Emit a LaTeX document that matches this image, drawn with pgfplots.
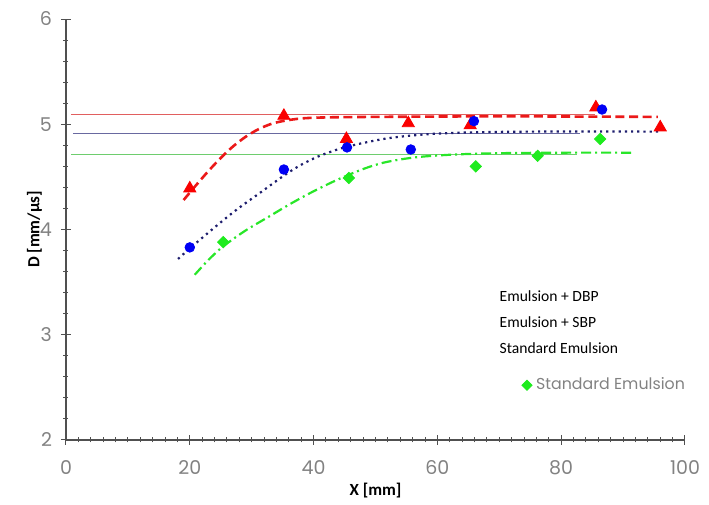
\documentclass[border=0pt]{standalone}
\usepackage{pgfplots}
\pgfplotsset{compat=1.18}
\usepackage{fontspec}
\setmainfont{Carlito}
\newfontfamily\gothic{Poppins}
\definecolor{hred}{RGB}{225,95,95}
\definecolor{hblue}{RGB}{105,105,160}
\definecolor{hgreen}{RGB}{110,205,110}
\definecolor{mred}{RGB}{250,0,0}
\definecolor{mblue}{RGB}{0,0,245}
\definecolor{mgreen}{RGB}{30,235,30}
\definecolor{lred}{RGB}{235,25,25}
\definecolor{lblue}{RGB}{30,30,110}
\definecolor{lgreen}{RGB}{40,230,40}
\definecolor{axgray}{RGB}{80,80,80}
\definecolor{tickgray}{RGB}{130,130,130}
\begin{document}
\begin{tikzpicture}
\begin{axis}[
  scale only axis,
  width=309.5pt, height=210.5pt,
  xmin=0, xmax=100, ymin=2, ymax=6,
  axis lines=left,
  axis line style={-, axgray, line width=0.6pt},
  xtick={0,20,...,100}, ytick={2,3,4,5,6},
  minor x tick num=9, minor y tick num=4,
  tick align=center,
  major tick length=5pt, minor tick length=2.5pt,
  tick style={axgray, line width=0.5pt},
  ticklabel style={font=\gothic\fontsize{9.5}{11}\selectfont, text=tickgray},
  /pgf/number format/assume math mode=true,
  xticklabel style={yshift=-4pt},
  yticklabel style={xshift=-1pt},
  xlabel={\bfseries X [mm]}, ylabel={\bfseries D [mm/µs]},
  label style={font=\fontsize{8.5}{10}\selectfont},
  xlabel style={yshift=2.5pt},
  ylabel style={yshift=-8pt},
  clip=false,
  legend style={draw=none, fill=none, at={(axis cs:73.6,2.52)}, anchor=west,
    font=\gothic\fontsize{7.9}{9}\selectfont, text=tickgray, inner sep=0pt,
    legend cell align=left},
  legend image code/.code={\draw[#1] plot coordinates {(0.1cm,0cm)};},
]
% horizontal reference lines
\addplot[hred, line width=0.6pt, forget plot] coordinates {(0.8,5.09) (85.5,5.09)};
\addplot[hblue, line width=0.6pt, forget plot] coordinates {(1.1,4.91) (83,4.91)};
\addplot[hgreen, line width=0.6pt, forget plot] coordinates {(0.8,4.71) (82.5,4.71)};
% fit curves
\addplot[lred, line width=1.3pt, dash pattern=on 4.5pt off 2.3pt, smooth, tension=0.5, forget plot] coordinates {
 (19,4.28) (21,4.42) (23,4.555) (25,4.68) (27,4.79) (29,4.88) (31,4.95) (33,5.00) (35,5.03) (38,5.055) (42,5.065) (50,5.07) (70,5.075) (95.6,5.07)};
\addplot[lblue, line width=1.1pt, dotted, smooth, tension=0.5, forget plot] coordinates {
 (18.1,3.72) (20,3.82) (24,4.02) (27.6,4.19) (31.5,4.355) (35.4,4.52) (38,4.615) (41,4.70) (45.3,4.785) (51.8,4.865) (58.3,4.905) (65,4.922) (75,4.93) (95.8,4.93)};
\addplot[lgreen, line width=1.1pt, dash pattern=on 5pt off 2pt on 1pt off 2pt, smooth, tension=0.5, forget plot] coordinates {
 (20.8,3.57) (23,3.71) (25.4,3.84) (29,3.99) (33,4.13) (36,4.235) (39.4,4.345) (43,4.45) (45.9,4.525) (48.5,4.585) (51.3,4.635) (54.5,4.67) (57.7,4.693) (63,4.713) (70,4.725) (80,4.73) (91.9,4.73)};
% data
\addplot[only marks, mark=triangle*, mark size=3.5pt, mred, forget plot] coordinates {
 (20,4.39) (35.2,5.08) (45.3,4.86) (55.3,5.01) (65.3,4.99) (85.6,5.16) (96,4.97)};
\addplot[only marks, mark=*, mark size=2.4pt, mblue, forget plot] coordinates {
 (20,3.83) (35.2,4.57) (45.4,4.78) (55.7,4.76) (65.9,5.03) (86.6,5.14)};
\addplot[only marks, mark=square*, mark size=2.0pt, mark options={rotate=45}, mgreen, forget plot] coordinates {
 (25.4,3.88) (45.7,4.49) (66.2,4.60) (76.2,4.70) (86.3,4.86)};
% legend entry
\addlegendimage{only marks, mark=square*, mark size=1.8pt, mark options={rotate=45}, mgreen}
\addlegendentry{Standard Emulsion}
% text labels
\node[anchor=west, font=\fontsize{7.8}{9}\selectfont, inner sep=0pt] at (axis cs:70.0,3.37) {Emulsion + DBP};
\node[anchor=west, font=\fontsize{7.8}{9}\selectfont, inner sep=0pt] at (axis cs:70.0,3.12) {Emulsion + SBP};
\node[anchor=west, font=\fontsize{7.8}{9}\selectfont, inner sep=0pt] at (axis cs:70.0,2.87) {Standard Emulsion};
\end{axis}
\useasboundingbox (-33pt,-31pt) rectangle (321.5pt,220pt);
\end{tikzpicture}
\end{document}
